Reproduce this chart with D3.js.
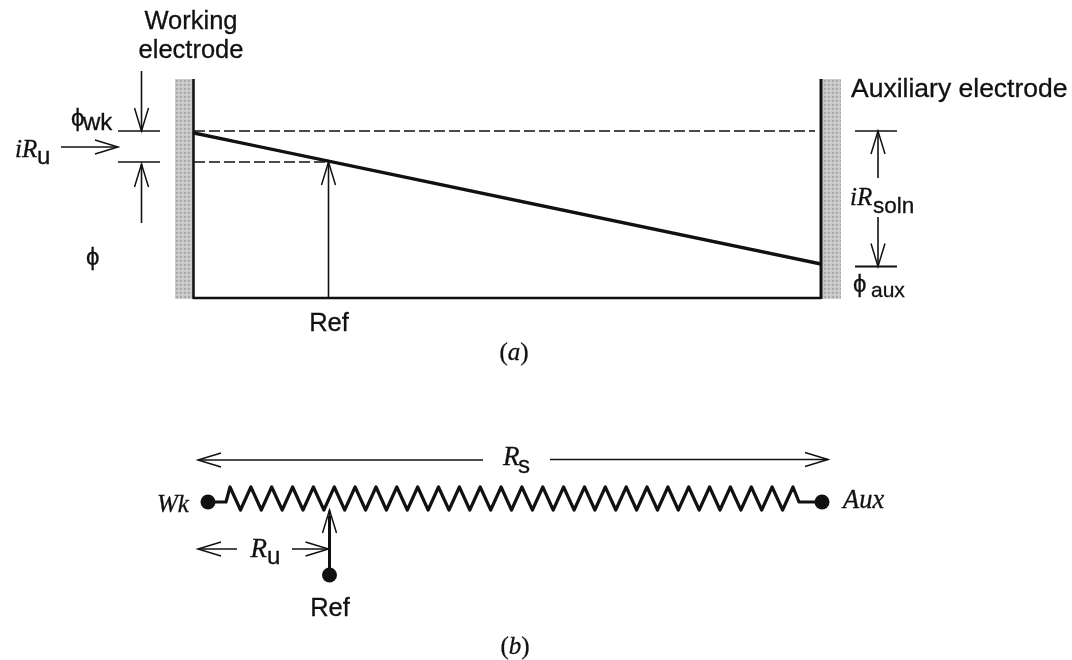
<!DOCTYPE html>
<html>
<head>
<meta charset="utf-8">
<script src="https://cdn.jsdelivr.net/npm/d3@7"></script>
<style>
    html, body { margin: 0; padding: 0; background: #fff; }
    svg { display: block; filter: blur(0.5px); }
    text { fill: #111; stroke: #111; stroke-width: 0.3px; }
    .sans { font-family: "Liberation Sans", Arial, sans-serif; }
    .serif { font-family: "Liberation Serif", "Times New Roman", serif; font-style: italic; }
    .upright { font-style: normal; }
</style>
</head>
<body>
<div id="chart"></div>
<script>

// potential profile across the cell: distance from the working electrode, potential
const profileDistance = [0, 627];
const profilePotential = [165, 34];

// levels
const cellLength = 627;
const refDistance = 134.5;
const phiWk = 167;
const phiRef = 136;
const phiAux = 31.5;

// resistor chain in panel (b), distance along the chain, height of the zigzag
const resistorPeaks = [36, 56.9, 77.7, 98.6, 119.4, 140.3, 161.1, 182, 202.8, 223.7, 244.5, 265.4, 286.2, 307.1,
    327.9, 348.8, 369.6, 390.5, 411.3, 432.2, 453, 473.9, 494.7, 515.6, 536.4, 557.3, 578.1, 599];
const resistorTroughs = [46.5, 67.3, 88.2, 109, 129.9, 150.7, 171.6, 192.4, 213.3, 234.1, 255, 275.8, 296.7, 317.5,
    338.4, 359.2, 380.1, 400.9, 421.8, 442.6, 463.5, 484.3, 505.2, 526, 546.9, 567.7, 588.6, 605];
const peakHeight = 23;
const wireHeight = 8;
const nodeWk = 14;
const nodeAux = 628;

const width = 1072;
const height = 660;

const svg = d3.select("#chart").append("svg")
    .attr("width", width)
    .attr("height", height);

// scales
const x = d3.scaleLinear().domain([0, cellLength]).range([194, 821]);
const y = d3.scaleLinear().domain([0, 167]).range([298, 131]);
const yR = d3.scaleLinear().domain([0, peakHeight]).range([510, 487]);

// stippled fill of the electrodes
const pattern = svg.append("defs").append("pattern")
    .attr("id", "stipple")
    .attr("width", 4)
    .attr("height", 4)
    .attr("patternUnits", "userSpaceOnUse");
pattern.append("rect").attr("width", 4).attr("height", 4).attr("fill", "#c9c9c9");
pattern.append("rect").attr("width", 2).attr("height", 2).attr("fill", "#a9a9a9");
pattern.append("rect").attr("x", 2).attr("y", 2).attr("width", 1).attr("height", 1).attr("fill", "#e2e2e2");

const ink = "#111";

function seg(x1, y1, x2, y2, w) {
    return svg.append("line")
        .attr("x1", x1).attr("y1", y1)
        .attr("x2", x2).attr("y2", y2)
        .attr("stroke", ink)
        .attr("stroke-width", w || 1.6);
}

// open arrow, tip at x2,y2
function arrow(x1, y1, x2, y2, w) {
    seg(x1, y1, x2, y2, w || 1.6);
    let a = Math.atan2(y2 - y1, x2 - x1);
    let len = 23, half = 7;
    let bx = x2 - len * Math.cos(a), by = y2 - len * Math.sin(a);
    let nx = -Math.sin(a) * half, ny = Math.cos(a) * half;
    svg.append("path")
        .attr("d", `M${bx + nx},${by + ny}L${x2},${y2}L${bx - nx},${by - ny}`)
        .attr("fill", "none")
        .attr("stroke", ink)
        .attr("stroke-width", 1.5);
}

function label(cls, px, py, str, size, anchor) {
    return svg.append("text")
        .attr("class", cls)
        .attr("x", px)
        .attr("y", py)
        .attr("font-size", size)
        .attr("text-anchor", anchor || "start")
        .text(str);
}

// panel caption, parentheses upright and the letter in italics
function caption(px, py, letter) {
    let t = label("serif", px, py, "", 25, "middle");
    t.append("tspan").attr("class", "upright").text("(");
    t.append("tspan").text(letter);
    t.append("tspan").attr("class", "upright").text(")");
}

/* panel (a) */

// electrodes
svg.append("rect").attr("x", 175).attr("y", 79).attr("width", 18).attr("height", 220).attr("fill", "url(#stipple)");
svg.append("rect").attr("x", 822).attr("y", 79).attr("width", 19).attr("height", 220).attr("fill", "url(#stipple)");
seg(x(0) - 0.5, 79, x(0) - 0.5, 299, 2.5);
seg(x(cellLength), 79, x(cellLength), 299, 3);
seg(x(0) - 1, y(0), x(cellLength), y(0), 2.5);

// dashed levels
seg(x(0), y(phiWk), x(621), y(phiWk), 1.6).attr("stroke-dasharray", "11,4");
seg(x(0), y(phiRef), x(refDistance) - 3, y(phiRef), 1.6).attr("stroke-dasharray", "11,4");

// potential profile
const profileLine = d3.line().x(d => x(d[0])).y(d => y(d[1]));
svg.append("path")
    .datum(d3.zip(profileDistance, profilePotential))
    .attr("d", profileLine)
    .attr("fill", "none")
    .attr("stroke", ink)
    .attr("stroke-width", 3.4);

// reference probe
arrow(x(refDistance), y(0), x(refDistance), y(phiRef));

// left hand dimension marks
seg(118, y(phiWk), 160, y(phiWk));
seg(118, y(phiRef), 160, y(phiRef));
arrow(141.5, 71, 141.5, y(phiWk));
arrow(141.5, 223, 141.5, y(phiRef) + 2);
arrow(61, 147, 118, 147);

// right hand dimension marks
seg(855, y(phiWk), 897, y(phiWk));
seg(855, y(phiAux), 897, y(phiAux), 1.8);
arrow(878, 178, 878, y(phiWk));
arrow(878, 217, 878, y(phiAux));

label("sans", 191, 28.5, "Working", 25.5, "middle");
label("sans", 191, 58, "electrode", 25.5, "middle");
label("sans", 851, 97, "Auxiliary electrode", 26.5);
label("sans", 71, 126, "\u03D5", 24);
label("sans", 83, 130, "wk", 24);
label("serif", 15, 157, "iR", 25);
label("sans", 37, 164, "u", 24);
label("sans", 86, 265, "\u03D5", 24);
label("serif", 850, 205, "iR", 25);
label("sans", 873, 213, "soln", 22.5);
label("sans", 853, 292, "\u03D5", 24);
label("sans", 871, 297, "aux", 21);
label("sans", 329, 331, "Ref", 25.5, "middle");
caption(514, 360, "a");

/* panel (b) */

// overall resistance arrows
arrow(483, 460, 198, 460);
arrow(550, 459.5, 828, 459.5);
label("serif", 503, 465, "R", 27);
label("sans", 518, 473, "s", 24);

// zigzag from alternating peaks and troughs
const chain = [[nodeWk, wireHeight], [32, wireHeight]];
resistorPeaks.forEach((p, i) => {
    chain.push([p, peakHeight]);
    // last point drops back to the wire, not a full trough
    chain.push([resistorTroughs[i], i === resistorPeaks.length - 1 ? wireHeight : 0]);
});
chain.push([nodeAux, wireHeight]);

const chainLine = d3.line().x(d => x(d[0])).y(d => yR(d[1]));
svg.append("path")
    .datum(chain)
    .attr("d", chainLine)
    .attr("fill", "none")
    .attr("stroke", ink)
    .attr("stroke-width", 3.2)
    .attr("stroke-linejoin", "round");

// terminals
svg.selectAll(".node")
    .data([[nodeWk, yR(wireHeight)], [nodeAux, yR(wireHeight)], [refDistance + 1, 575]])
    .enter().append("circle")
    .attr("class", "node")
    .attr("cx", d => x(d[0]))
    .attr("cy", d => d[1])
    .attr("r", 7.5)
    .attr("fill", ink);

// reference lead
seg(x(refDistance + 1), 575, x(refDistance + 1), 516, 3);
arrow(x(refDistance + 1), 540, x(refDistance + 1), yR(0));

// uncompensated part
arrow(237, 549, 198, 549);
arrow(292, 549, x(refDistance), 549);
label("serif", 250.5, 557, "R", 27);
label("sans", 267, 564, "u", 24);

label("serif", 157, 512, "Wk", 25);
label("serif", 843, 508, "Aux", 26.5);
label("sans", 330, 616, "Ref", 25.5, "middle");
caption(515, 654, "b");

</script>
</body>
</html>
